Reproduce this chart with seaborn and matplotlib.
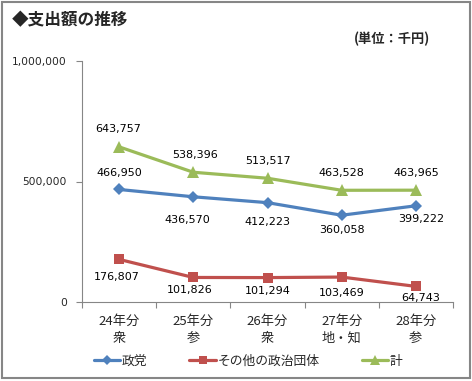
import matplotlib.pyplot as plt
import pandas as pd
import seaborn as sns
from matplotlib.patches import Rectangle
from matplotlib.ticker import FixedLocator, StrMethodFormatter

years = ["24年分\n衆", "25年分\n参", "26年分\n衆", "27年分\n地・知", "28年分\n参"]
seito = [466950, 436570, 412223, 360058, 399222]
sonota = [176807, 101826, 101294, 103469, 64743]
kei = [643757, 538396, 513517, 463528, 463965]
series_names = ["政党", "その他の政治団体", "計"]

df = pd.concat([
    pd.DataFrame({"year": years, "value": seito, "kind": series_names[0]}),
    pd.DataFrame({"year": years, "value": sonota, "kind": series_names[1]}),
    pd.DataFrame({"year": years, "value": kei, "kind": series_names[2]}),
])

jp = ["Noto Sans CJK JP", "DejaVu Sans"]
colors = {"政党": "#4F81BD", "その他の政治団体": "#C0504D", "計": "#9BBB59"}
markers = {"政党": "D", "その他の政治団体": "s", "計": "^"}
msizes = {"政党": 6.5, "その他の政治団体": 7, "計": 8.5}

sns.set_style("white")
plt.rcParams["font.family"] = ["DejaVu Sans"]

fig = plt.figure(figsize=(4.72, 3.81), dpi=100)
ax = fig.add_axes([82 / 472, 79 / 381, 371 / 472, 241 / 381])

sns.lineplot(data=df, x="year", y="value", hue="kind", style="kind",
             palette=colors, markers=markers, dashes=False, sort=False,
             linewidth=2.3, markeredgewidth=0, ax=ax)

for line, name in zip(ax.lines, series_names):
    line.set_markersize(msizes[name])

handles, labels = ax.get_legend_handles_labels()
ax.get_legend().remove()
for h in handles:
    h.set_markersize(msizes[h.get_label()] * 0.8)
    h.set_markeredgewidth(0)
fig.legend(handles, labels, loc="center",
           bbox_to_anchor=(0.5 + 12 / 472, 1 - 361 / 381),
           ncol=3, frameon=False, prop={"family": jp, "size": 9.2},
           handlelength=2.1, handletextpad=0.1, columnspacing=3.3)

# data labels (pixel offsets, Excel placed them by hand)
label_off = {
    "政党": [(0, 16), (-6, -23), (0, -19), (0, -15), (5, -13)],
    "その他の政治団体": [(-2, -18), (-4, -13), (0, -13), (0, -16), (5, -12)],
    "計": [(-1, 18), (2, 17), (0, 17), (0, 17), (0, 17)],
}
for name, vals in zip(series_names, [seito, sonota, kei]):
    for i, v in enumerate(vals):
        dx, dy = label_off[name][i]
        ax.annotate(f"{v:,}", (i, v), xytext=(dx * 0.72, dy * 0.72),
                    textcoords="offset points", ha="center", va="center",
                    fontsize=8, color="black")

ax.set_ylim(0, 1000000)
ax.set_xlim(-0.5, 4.5)
ax.set_yticks([0, 500000, 1000000])
ax.yaxis.set_major_formatter(StrMethodFormatter("{x:,.0f}"))
ax.set_xlabel("")
ax.set_ylabel("")
ax.xaxis.set_minor_locator(FixedLocator([-0.5, 0.5, 1.5, 2.5, 3.5, 4.5]))
ax.tick_params(axis="x", which="major", length=0, pad=9, labelsize=9.5)
ax.tick_params(axis="x", which="minor", length=4, width=0.8, color="#868686",
               direction="out", bottom=True)
ax.tick_params(axis="y", length=4, width=0.8, color="#868686", pad=7,
               labelsize=7.7, left=True, direction="out")
for t in ax.get_xticklabels():
    t.set_family(jp)
    t.set_linespacing(1.45)
for s in ["top", "right"]:
    ax.spines[s].set_visible(False)
for s in ["left", "bottom"]:
    ax.spines[s].set_color("#868686")
    ax.spines[s].set_linewidth(0.8)

fig.text(12 / 472, 1 - 20 / 381, "◆支出額の推移", family=jp, weight="bold",
         fontsize=12, va="center", ha="left")
fig.text(430 / 472, 1 - 39 / 381, "(単位：千円)", family=jp, weight="bold",
         fontsize=9.5, va="center", ha="right")

fig.patches.append(Rectangle((1.5 / 472, 3 / 381), 468.5 / 472, 376.5 / 381,
                             transform=fig.transFigure, fill=False,
                             edgecolor="#868686", linewidth=1.5))

fig.savefig("out.png", dpi=100)
